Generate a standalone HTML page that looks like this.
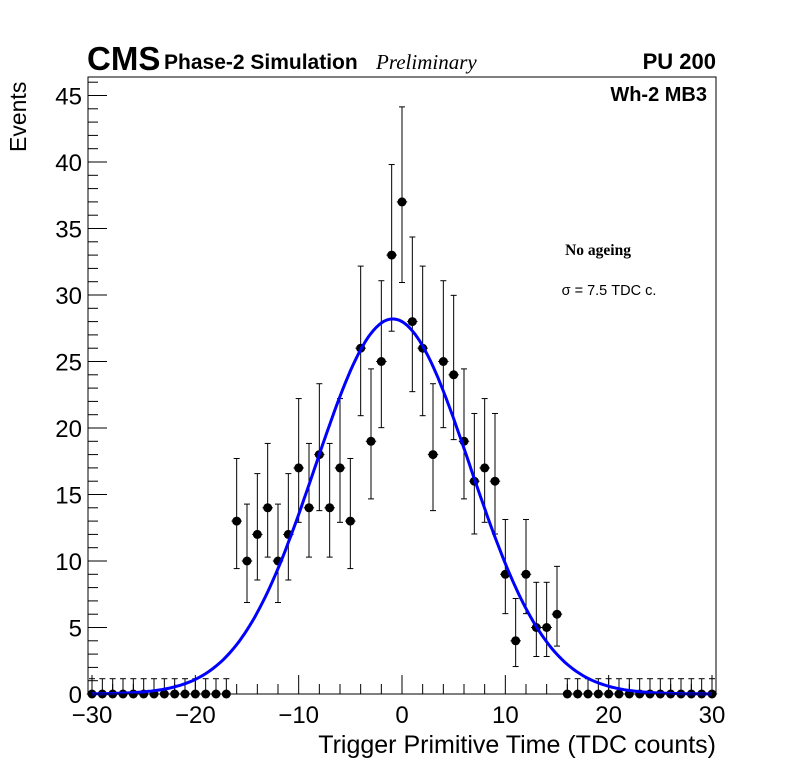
<!DOCTYPE html>
<html><head><meta charset="utf-8"><style>
body{margin:0;background:#fff}
svg{display:block;font-family:"Liberation Sans",sans-serif}
</style></head><body>
<svg width="796" height="772" viewBox="0 0 796 772" xmlns="http://www.w3.org/2000/svg">
<rect x="0" y="0" width="796" height="772" fill="#fff"/>
<text x="87" y="70" font-size="33" font-weight="bold">CMS</text>
<text x="164" y="69" font-size="21" font-weight="bold">Phase-2 Simulation</text>
<text x="376" y="69" font-size="21" font-style="italic" font-family="Liberation Serif,serif">Preliminary</text>
<text x="716" y="69" font-size="22" font-weight="bold" text-anchor="end">PU 200</text>
<text x="707" y="101" font-size="20" font-weight="bold" text-anchor="end">Wh-2 MB3</text>
<text x="598" y="255" font-size="15.5" font-weight="bold" font-family="Liberation Serif,serif" text-anchor="middle">No ageing</text>
<text x="609" y="295" font-size="14.5" text-anchor="middle">σ = 7.5 TDC c.</text>
<text transform="translate(26,152) rotate(-90)" font-size="23">Events</text>
<text x="716" y="753" font-size="25" text-anchor="end">Trigger Primitive Time (TDC counts)</text>
<g id="axes"></g>
<g id="marks"></g>
<rect x="88" y="77" width="628" height="617" fill="none" stroke="#000" stroke-width="1"/>
</svg>
<script>
const xCenters=[-30,-29,-28,-27,-26,-25,-24,-23,-22,-21,-20,-19,-18,-17,-16,-15,-14,-13,-12,-11,-10,-9,-8,-7,-6,-5,-4,-3,-2,-1,0,1,2,3,4,5,6,7,8,9,10,11,12,13,14,15,16,17,18,19,20,21,22,23,24,25,26,27,28,29,30];
const counts=[0,0,0,0,0,0,0,0,0,0,0,0,0,0,13,10,12,14,10,12,17,14,18,14,17,13,26,19,25,33,37,28,26,18,25,24,19,16,17,16,9,4,9,5,5,6,0,0,0,0,0,0,0,0,0,0,0,0,0,0,0];
const fitAmp=28.2, fitMean=-0.9, fitSigma=7.5;
const xTicks=[-30,-20,-10,0,10,20,30];
const yTicks=[0,5,10,15,20,25,30,35,40,45];
const NS='http://www.w3.org/2000/svg';
const X=v=>402+v*10.333, Y=v=>694-v*13.3;
function mk(t,a,p){const e=document.createElementNS(NS,t);for(const k in a)e.setAttribute(k,a[k]);p.appendChild(e);return e;}
const ax=document.getElementById('axes'), mg=document.getElementById('marks');
for(let v=-30;v<=30;v+=2){const maj=v%10===0;const l=mk('line',{x1:X(v),x2:X(v),y1:694,y2:694-(maj?19:10),stroke:'#000'},ax);

}
for(let v=0;v<=46;v+=1){const maj=v%5===0;const l=mk('line',{x1:88,x2:88+(maj?19:10),y1:Y(v),y2:Y(v),stroke:'#000'},ax);

}
xTicks.forEach(v=>{const t=mk('text',{x:X(v),y:723,'font-size':24,'text-anchor':'middle'},ax);t.textContent=(v<0?'\u2212'+(-v):v);

});
yTicks.forEach(v=>{const t=mk('text',{x:82,y:Y(v)+9,'font-size':24,'text-anchor':'end'},ax);t.textContent=v;

});
xCenters.forEach((c,i)=>{const n=counts[i];const x=X(c),y=Y(n);
const up=n===0?1.15:n+Math.sqrt(n+0.75)+1, lo=n===0?0:Math.max(0,n-Math.sqrt(n-0.25));
const g=mk('g',{},mg);


mk('line',{x1:x,x2:x,y1:Y(lo),y2:Y(up),stroke:'#000'},g);
mk('line',{x1:x-3,x2:x+3,y1:Y(up),y2:Y(up),stroke:'#000'},g);
if(n>0)mk('line',{x1:x-3,x2:x+3,y1:Y(lo),y2:Y(lo),stroke:'#000'},g);
mk('line',{x1:x-5.2,x2:x+5.2,y1:y,y2:y,stroke:'#000'},g);
mk('circle',{cx:x,cy:y,r:4.5,fill:'#000'},g);});
let d='';for(let v=-30;v<=30;v+=0.25){const f=fitAmp*Math.exp(-0.5*Math.pow((v-fitMean)/fitSigma,2));d+=(d?'L':'M')+X(v).toFixed(1)+','+Y(f).toFixed(1);}
const p=mk('path',{d:d,fill:'none',stroke:'#0000ff','stroke-width':3},mg);


</script>
</body></html>
